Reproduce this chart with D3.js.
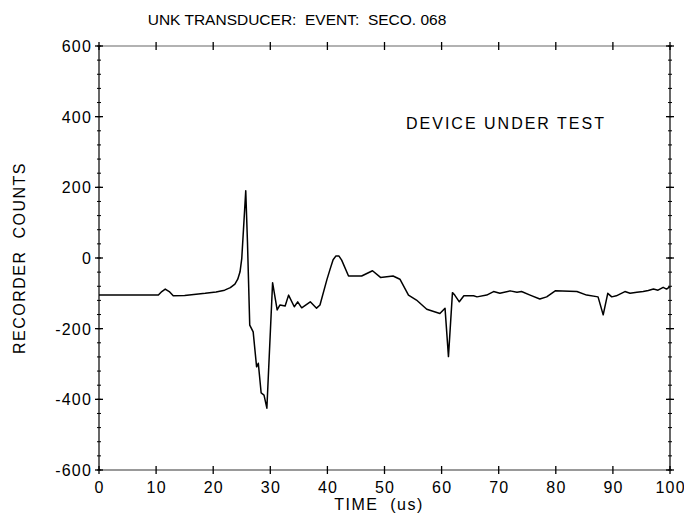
<!DOCTYPE html>
<html lang="en"><head>
<meta charset="utf-8">
<title>Transducer trace</title>
<script src="https://cdn.jsdelivr.net/npm/d3@7"></script>
<style>
body { margin: 0; background: #fff; }
text { font-family: "Liberation Sans", Arial, sans-serif; fill: #000; }
</style>
</head>
<body>
<div id="chart"></div>
<script>
// trace: time (us) and recorder counts
var times = [0, 5, 10.4, 11.0, 11.6, 12.3, 13.0, 15, 18.6, 20.5, 22.0, 23.0, 23.8, 24.3, 24.7, 25.0,
  25.3, 25.7, 26.0, 26.4, 27.0, 27.6, 27.9, 28.4, 28.9, 29.4, 30.4, 31.2, 31.7, 32.6, 33.2, 34.2,
  34.8, 35.5, 37.0, 38.1, 38.7, 39.9, 40.5, 41.0, 41.5, 42.0, 42.5, 43.7, 46.0, 47.9, 49.3, 51.5,
  52.7, 54.2, 55.6, 57.4, 59.7, 60.6, 61.2, 61.9, 62.3, 63.1, 63.9, 65.6, 66.2, 67.9, 69.1, 70.2,
  72.0, 73.2, 74.0, 75.5, 77.2, 78.4, 79.9, 83.7, 85.4, 87.4, 88.3, 89.1, 89.8, 90.6, 92.1, 93.0,
  94.2, 95.3, 96.2, 97.1, 97.9, 98.8, 99.4, 100];
var counts = [-105, -105, -105, -95, -88, -95, -107, -106, -100, -96, -91, -84, -74, -60, -39, -2,
  80, 190, 46, -190, -209, -308, -298, -382, -388, -425, -70, -147, -133, -136, -105, -138,
  -124, -141, -124, -142, -133, -62, -30, -5, 6, 6, -6, -51, -51, -36, -55, -51,
  -60, -105, -119, -145, -157, -142, -279, -98, -105, -124, -107, -107, -110, -105, -95, -100,
  -93, -97, -95, -105, -116, -110, -93, -95, -105, -110, -161, -100, -110, -107, -95, -100,
  -97, -95, -92, -88, -91, -83, -88, -81];

var xTicks = [0, 10, 20, 30, 40, 50, 60, 70, 80, 90, 100];
var yTicks = [-600, -400, -200, 0, 200, 400, 600];

var title = "UNK TRANSDUCER:  EVENT:  SECO. 068";
var note = "DEVICE UNDER TEST";

var width = 684, height = 516;
var mLeft = 99, mRight = 670, mTop = 46, mBottom = 470;

var svg = d3.select("#chart").append("svg")
    .attr("width", width)
    .attr("height", height);

var x = d3.scaleLinear().domain([0, 100]).range([mLeft, mRight]);
var y = d3.scaleLinear().domain([-600, 600]).range([mBottom, mTop]);

// frame: top and bottom grey, sides black
svg.append("line").attr("x1", mLeft).attr("x2", mRight).attr("y1", mTop).attr("y2", mTop)
    .attr("stroke", "#999").attr("stroke-width", 1.5);
svg.append("line").attr("x1", mLeft).attr("x2", mRight).attr("y1", mBottom).attr("y2", mBottom)
    .attr("stroke", "#777").attr("stroke-width", 1.5);

var yMinor = d3.range(-600, 601, 40);

[mLeft, mRight].forEach(function (xp) {
  svg.append("line").attr("x1", xp).attr("x2", xp).attr("y1", mTop).attr("y2", mBottom)
      .attr("stroke", "#000").attr("stroke-width", 1.2);
  svg.selectAll(null).data(yMinor).enter().append("line")
      .attr("x1", xp - 2).attr("x2", xp + 2)
      .attr("y1", function (d) { return y(d); })
      .attr("y2", function (d) { return y(d); })
      .attr("stroke", "#000").attr("stroke-width", 1);
  svg.selectAll(null).data(yTicks).enter().append("line")
      .attr("x1", xp - 4).attr("x2", xp + 4)
      .attr("y1", function (d) { return y(d); })
      .attr("y2", function (d) { return y(d); })
      .attr("stroke", "#000").attr("stroke-width", 1.3);
});

[mTop, mBottom].forEach(function (yp) {
  svg.selectAll(null).data(xTicks).enter().append("line")
      .attr("x1", function (d) { return x(d); })
      .attr("x2", function (d) { return x(d); })
      .attr("y1", yp - 4).attr("y2", yp + 4)
      .attr("stroke", "#000").attr("stroke-width", 1.3);
});

// tick labels
svg.selectAll(null).data(yTicks).enter().append("text")
    .attr("x", mLeft - 7)
    .attr("y", function (d) { return y(d) + 6; })
    .attr("text-anchor", "end")
    .attr("font-size", 16)
    .attr("letter-spacing", 1.2)
    .text(function (d) { return d; });

svg.selectAll(null).data(xTicks).enter().append("text")
    .attr("x", function (d) { return x(d) + 0.6; })
    .attr("y", mBottom + 23)
    .attr("text-anchor", "middle")
    .attr("font-size", 16)
    .attr("letter-spacing", 1.2)
    .text(function (d) { return d; });

// trace
var pts = times.map(function (t, i) { return [t, counts[i]]; });
var line = d3.line()
    .x(function (d) { return x(d[0]); })
    .y(function (d) { return y(d[1]); })
    .curve(d3.curveLinear);

svg.append("path")
    .datum(pts)
    .attr("d", line)
    .attr("fill", "none")
    .attr("stroke", "#000")
    .attr("stroke-width", 1.5)
    .attr("stroke-linejoin", "round");

// titles
svg.append("text")
    .attr("x", 297).attr("y", 25)
    .attr("text-anchor", "middle")
    .attr("font-size", 15.5)
    .style("white-space", "pre")
    .text(title);

svg.append("text")
    .attr("x", 506).attr("y", 129)
    .attr("text-anchor", "middle")
    .attr("font-size", 16)
    .attr("letter-spacing", 2)
    .text(note);

svg.append("text")
    .attr("x", 379).attr("y", 510)
    .attr("text-anchor", "middle")
    .attr("font-size", 16)
    .attr("letter-spacing", 1.5)
    .style("white-space", "pre")
    .text("TIME  (us)");

svg.append("text")
    .attr("transform", "translate(25," + ((mTop + mBottom) / 2) + ") rotate(-90)")
    .attr("text-anchor", "middle")
    .attr("font-size", 16)
    .attr("letter-spacing", 1.5)
    .style("white-space", "pre")
    .text("RECORDER  COUNTS");
</script>
</body></html>
